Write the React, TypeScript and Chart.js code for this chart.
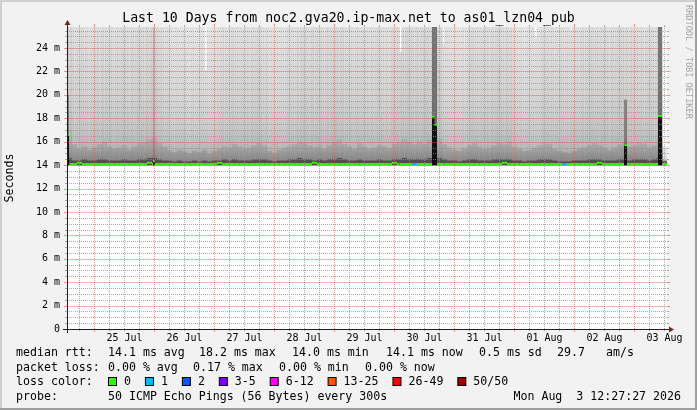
import React, { useEffect, useRef } from "react";
import { Chart, registerables } from "chart.js";

Chart.register(...registerables);

const FONT = '"DejaVu Sans Mono", monospace';

const TITLE = "Last 10 Days from noc2.gva20.ip-max.net to as01_lzn04_pub";
const Y_TITLE = "Seconds";
const WATERMARK = "RRDTOOL / TOBI OETIKER";

// time axis: hours since Jul 24 13:00, 10 days
const X_MIN = 0;
const X_MAX = 240;
const BIN_HOURS = 2;
const JITTER_BIN_HOURS = 1;
const dayLabels = ["25 Jul", "26 Jul", "27 Jul", "28 Jul", "29 Jul", "30 Jul", "31 Jul", "01 Aug", "02 Aug", "03 Aug"];
const dayNoonHours = [23, 47, 71, 95, 119, 143, 167, 191, 215, 239];
const midnightHours = [11, 35, 59, 83, 107, 131, 155, 179, 203, 227];
const MINOR_X_STEP = 6;

const Y_MIN = 0;
const Y_MAX = 25.8;
const yTickValues = [0, 2, 4, 6, 8, 10, 12, 14, 16, 18, 20, 22, 24];
const yTickLabels = ["0", "2 m", "4 m", "6 m", "8 m", "10 m", "12 m", "14 m", "16 m", "18 m", "20 m", "22 m", "24 m"];
const MINOR_Y_STEP = 0.5;
const SMOKE_FLOOR = 13.98;

// per 2h bin (120 bins), values in milliseconds
const medianRtt = [
  14.1, 14.1, 14.2, 14.1, 14.1, 14.1, 14.1, 14.1, 14.1, 14.1,
  14.1, 14.1, 14.1, 14.1, 14.1, 14.1, 14.2, 14.1, 14.1, 14.1,
  14.1, 14.1, 14.1, 14.1, 14.1, 14.1, 14.1, 14.1, 14.1, 14.1,
  14.2, 14.1, 14.1, 14.1, 14.1, 14.1, 14.1, 14.1, 14.1, 14.1,
  14.1, 14.1, 14.1, 14.1, 14.1, 14.1, 14.1, 14.1, 14.1, 14.2,
  14.1, 14.1, 14.1, 14.1, 14.1, 14.1, 14.1, 14.1, 14.1, 14.1,
  14.1, 14.1, 14.1, 14.1, 14.1, 14.2, 14.1, 14.1, 14.1, 14.1,
  14.1, 14.1, 14.1, 14.1, 14.1, 14.1, 14.1, 14.1, 14.1, 14.1,
  14.1, 14.1, 14.1, 14.1, 14.1, 14.1, 14.1, 14.2, 14.1, 14.1,
  14.1, 14.1, 14.1, 14.1, 14.1, 14.1, 14.1, 14.1, 14.1, 14.1,
  14.1, 14.1, 14.1, 14.1, 14.1, 14.1, 14.2, 14.1, 14.1, 14.1,
  14.1, 14.1, 14.1, 14.1, 14.1, 14.1, 14.1, 14.1, 14.1, 14.1,
];
const lossCount = [
  0, 0, 0, 0, 0, 0, 0, 0, 0, 0,
  0, 0, 0, 0, 0, 0, 0, 0, 0, 0,
  0, 0, 0, 0, 0, 0, 0, 0, 0, 0,
  0, 0, 0, 0, 0, 0, 0, 0, 0, 0,
  0, 0, 0, 0, 0, 0, 0, 0, 0, 0,
  0, 0, 0, 0, 0, 0, 0, 0, 0, 0,
  0, 0, 0, 0, 0, 0, 0, 0, 0, 1,
  0, 0, 0, 0, 0, 0, 0, 0, 0, 0,
  0, 0, 0, 0, 0, 0, 0, 0, 0, 0,
  0, 0, 0, 0, 0, 0, 0, 0, 0, 1,
  0, 0, 0, 0, 0, 0, 0, 0, 0, 0,
  0, 0, 0, 0, 0, 0, 0, 0, 0, 0,
];
const smokeMax = [
  26, 26, 26, 26, 26, 26, 26, 26, 26, 26,
  26, 26, 26, 26, 26, 26, 26, 26, 26, 26,
  26, 26, 26, 26, 26, 26, 26, 26, 26, 26,
  26, 26, 26, 26, 26, 26, 26, 26, 26, 26,
  26, 26, 26, 26, 26, 26, 26, 26, 26, 26,
  26, 26, 26, 26, 26, 26, 26, 26, 26, 26,
  26, 26, 26, 26, 26, 26, 26, 26, 26, 26,
  26, 26, 26, 26, 26, 26, 26, 26, 26, 26,
  26, 26, 26, 26, 26, 26, 26, 26, 26, 26,
  26, 26, 26, 26, 26, 26, 26, 26, 26, 26,
  26, 26, 26, 26, 26, 26, 26, 26, 26, 26,
  26, 26, 26, 26, 26, 26, 26, 26, 26, 26,
];
// share (%) of the 50 pings well above the median, per 1h
const jitterShare = [
  80, 60, 42, 38, 36, 40, 48, 40, 34, 38, 44, 40, 50, 42, 52, 48, 40, 46, 38, 42,
  46, 42, 50, 44, 40, 44, 48, 42, 54, 50, 48, 52, 58, 54, 66, 58, 50, 44, 38, 34,
  28, 24, 20, 24, 26, 22, 18, 22, 16, 20, 24, 20, 18, 22, 26, 22, 16, 20, 24, 20,
  32, 36, 42, 38, 34, 38, 46, 42, 38, 42, 34, 38, 42, 38, 46, 42, 50, 46, 36, 40,
  30, 26, 22, 26, 30, 26, 34, 30, 38, 34, 42, 38, 50, 46, 44, 48, 42, 46, 52, 48,
  46, 50, 42, 46, 52, 48, 58, 54, 50, 54, 48, 44, 38, 42, 36, 40, 46, 42, 38, 42,
  36, 40, 42, 38, 46, 42, 38, 42, 34, 38, 50, 46, 54, 50, 58, 54, 52, 56, 48, 52,
  56, 52, 50, 54, 60, 56, 66, 62, 58, 54, 32, 28, 22, 26, 18, 22, 24, 20, 28, 24,
  38, 42, 48, 44, 40, 44, 36, 40, 46, 42, 50, 46, 52, 48, 44, 48, 50, 46, 34, 30,
  24, 28, 20, 24, 26, 22, 30, 26, 28, 32, 38, 34, 46, 42, 38, 42, 34, 38, 40, 36,
  32, 36, 40, 36, 38, 42, 46, 42, 44, 48, 52, 48, 46, 50, 44, 48, 42, 46, 50, 46,
  48, 52, 56, 52, 44, 48, 38, 42, 46, 42, 40, 44, 36, 40, 44, 40, 58, 54, 32, 28,
];
const smokeCore = [
  17.0, 15.8, 15.4, 15.6, 15.3, 15.5, 15.8, 16.0, 15.6, 15.4,
  15.5, 15.7, 15.3, 15.6, 15.9, 16.0, 16.2, 16.4, 15.9, 15.6,
  15.3, 15.1, 15.3, 15.2, 15.0, 15.2, 15.1, 15.3, 15.0, 15.2,
  15.4, 15.6, 15.5, 15.8, 15.6, 15.4, 15.5, 15.7, 15.9, 15.7,
  15.2, 15.0, 15.3, 15.5, 15.6, 15.8, 16.0, 15.9, 15.7, 15.5,
  15.6, 15.4, 15.7, 16.0, 16.2, 15.8, 15.6, 15.4, 15.9, 15.6,
  15.4, 15.5, 15.7, 15.6, 15.4, 15.8, 16.0, 16.2, 16.0, 15.8,
  16.0, 15.8, 16.2, 16.5, 16.3, 15.8, 15.5, 15.3, 15.2, 15.4,
  15.7, 15.9, 15.6, 15.4, 15.5, 15.7, 15.9, 15.8, 16.0, 15.6,
  15.4, 15.2, 15.3, 15.5, 15.7, 15.9, 15.8, 15.4, 15.2, 15.1,
  15.0, 15.2, 15.4, 15.5, 15.7, 15.9, 15.7, 15.5, 15.3, 15.5,
  15.7, 16.0, 15.6, 15.7, 15.9, 15.8, 15.5, 15.7, 16.2, 15.6,
];
const smokeDense = [
  14.6, 14.4, 14.4, 14.5, 14.4, 14.4, 14.5, 14.5, 14.4, 14.4,
  14.4, 14.5, 14.4, 14.4, 14.5, 14.5, 14.6, 14.6, 14.5, 14.4,
  14.4, 14.3, 14.4, 14.3, 14.3, 14.4, 14.3, 14.4, 14.3, 14.4,
  14.4, 14.5, 14.4, 14.5, 14.4, 14.4, 14.4, 14.5, 14.5, 14.5,
  14.4, 14.3, 14.4, 14.4, 14.5, 14.5, 14.6, 14.5, 14.5, 14.4,
  14.5, 14.4, 14.5, 14.5, 14.6, 14.5, 14.4, 14.4, 14.5, 14.4,
  14.4, 14.4, 14.5, 14.4, 14.4, 14.5, 14.5, 14.6, 14.5, 14.5,
  14.5, 14.5, 14.6, 14.6, 14.6, 14.5, 14.4, 14.4, 14.3, 14.4,
  14.5, 14.5, 14.4, 14.4, 14.4, 14.5, 14.5, 14.5, 14.5, 14.4,
  14.4, 14.3, 14.4, 14.4, 14.5, 14.5, 14.5, 14.4, 14.3, 14.3,
  14.3, 14.4, 14.4, 14.4, 14.5, 14.5, 14.5, 14.4, 14.4, 14.4,
  14.5, 14.5, 14.4, 14.5, 14.5, 14.5, 14.4, 14.5, 14.6, 14.4,
];

// narrow events (hours) overriding the bins; null = keep bin value
const spikeFrom = [0, 34.4, 55.2, 133.2, 146, 147, 150.4, 187.2, 201.6, 222.8, 236.4, 238.4];
const spikeTo = [0.8, 35.2, 55.8, 133.8, 147, 148, 150.8, 187.8, 202, 224, 238, 240];
const spikeMedian = [16.6, 14.35, null, null, 18.15, 17.45, null, null, null, 15.7, 18.2, null];
const spikeMax = [null, null, 22.1, 23.7, null, null, 24.4, 24.9, 25.4, null, null, 14.3];
const spikeShade = [20, 26, null, null, 26, 26, null, null, null, 19.6, 26, null];
const spikeShadeLevel = [0.35, 0.12, 0, 0, 0.45, 0.45, 0, 0, 0, 0.35, 0.45, 0];
const spikePeak = [16.6, 14.35, null, null, 18.1, 17.4, null, null, null, 15.7, 18.2, null];

const lossLabels = ["0", "1", "2", "3-5", "6-12", "13-25", "26-49", "50/50"];
const lossThresholds = [0, 1, 2, 3, 6, 13, 26, 50];
const lossColors = ["#26ff00", "#00b8ff", "#0059ff", "#7e00ff", "#ff00ff", "#ff5500", "#ff0000", "#a10000"];

const legendRow1: [string, number][] = [
  ["median rtt:", 16],
  ["14.1 ms avg", 108],
  ["18.2 ms max", 199],
  ["14.0 ms min", 292],
  ["14.1 ms now", 386],
  ["0.5 ms sd", 479],
  ["29.7", 557],
  ["am/s", 606],
];
const legendRow2: [string, number][] = [
  ["packet loss:", 16],
  ["0.00 % avg", 108],
  ["0.17 % max", 193],
  ["0.00 % min", 279],
  ["0.00 % now", 365],
];
const legendRow3Title = "loss color:";
const legendRow4: [string, number][] = [
  ["probe:", 16],
  ["50 ICMP Echo Pings (56 Bytes) every 300s", 108],
];
const STAMP = "Mon Aug  3 12:27:27 2026";

function lossColor(n: number) {
  let c = lossColors[0];
  for (let i = 0; i < lossThresholds.length; i++) if (n >= lossThresholds[i]) c = lossColors[i];
  return c;
}

function buildIntervals(): [number, number][] {
  const edges: number[] = [];
  for (let i = 0; i <= jitterShare.length; i++) edges.push(i * JITTER_BIN_HOURS);
  for (let i = 0; i <= medianRtt.length; i++) edges.push(i * BIN_HOURS);
  spikeFrom.forEach((v) => edges.push(v));
  spikeTo.forEach((v) => edges.push(v));
  const uniq = Array.from(new Set(edges.map((e) => Math.round(e * 1000) / 1000))).sort((a, b) => a - b);
  const out: [number, number][] = [];
  for (let k = 0; k < uniq.length - 1; k++) out.push([uniq[k], uniq[k + 1]]);
  return out;
}

function spikeAt(a: number, b: number) {
  const c = (a + b) / 2;
  for (let s = 0; s < spikeFrom.length; s++) if (c >= spikeFrom[s] && c < spikeTo[s]) return s;
  return -1;
}

function pick(base: number[] | null, spikes: (number | null)[], a: number, b: number): number {
  const s = spikeAt(a, b);
  if (s >= 0 && spikes[s] != null) return spikes[s] as number;
  if (!base) return SMOKE_FLOOR;
  return base[Math.min(base.length - 1, Math.floor((a + b) / 2 / BIN_HOURS))];
}

function stepSeries(intervals: [number, number][], base: number[] | null, spikes: (number | null)[]) {
  const pts = intervals.map(([a, b]) => ({ x: a, y: pick(base, spikes, a, b) }));
  pts.push({ x: X_MAX, y: pts[pts.length - 1].y });
  return pts;
}

function drawGrid(chart: any) {
  const { ctx, chartArea: a, scales } = chart;
  const xs = scales.x;
  const ys = scales.y;
  const L = Math.round(a.left);
  const R = Math.round(a.right) - 1;
  const T = Math.round(a.top);
  const B = Math.round(a.bottom);
  const minorCol = "rgba(143,143,143,0.75)";
  const majorCol = "rgba(222,79,79,0.6)";
  const hline = (p: number, col: string, major: boolean) => {
    const r = Math.round(p);
    ctx.fillStyle = col;
    if (major) {
      ctx.save();
      ctx.globalAlpha = 0.7;
      ctx.fillRect(L, r, R - L + 1, 1);
      ctx.restore();
    } else {
      for (let x = L; x <= R; x += 2) ctx.fillRect(x, r, 1, 1);
    }
    const t = major ? 3 : 2;
    ctx.fillRect(L - t, r, t, 1);
    ctx.fillRect(R + 1, r, t, 1);
  };
  const vline = (p: number, col: string, major: boolean) => {
    const c = Math.floor(p);
    ctx.fillStyle = col;
    for (let y = B - 1; y >= T; y -= 2) ctx.fillRect(c, y, 1, 1);
    const t = major ? 3 : 2;
    ctx.fillRect(c, B, 1, t);
    ctx.fillRect(c, T - t, 1, t);
  };
  ctx.save();
  const rows: number[] = [];
  for (let k = 1; k * MINOR_Y_STEP < Y_MAX; k++) rows.push(k * MINOR_Y_STEP);
  rows.forEach((v) => {
    if (yTickValues.indexOf(v) < 0) hline(ys.getPixelForValue(v), minorCol, false);
  });
  for (let h = midnightHours[0] - MINOR_X_STEP; h < X_MAX; h += MINOR_X_STEP) {
    if (h <= X_MIN || midnightHours.indexOf(h) >= 0) continue;
    vline(xs.getPixelForValue(h), minorCol, false);
  }
  for (let k = 1; k < yTickValues.length; k++) hline(ys.getPixelForValue(yTickValues[k]), majorCol, true);
  for (let k = 0; k < midnightHours.length; k++) vline(xs.getPixelForValue(midnightHours[k]), majorCol, true);
  ctx.restore();
}

const rrdPlugin = {
  id: "rrdLook",
  beforeDraw(chart: any) {
    const { ctx, width, height, chartArea: a } = chart;
    ctx.save();
    ctx.fillStyle = "#f2f2f2";
    ctx.fillRect(0, 0, width, height);
    ctx.fillStyle = "#cfcfcf";
    ctx.fillRect(0, 0, width, 2);
    ctx.fillRect(0, 0, 2, height);
    ctx.fillStyle = "#9e9e9e";
    ctx.fillRect(0, height - 2, width, 2);
    ctx.fillRect(width - 2, 0, 2, height);
    ctx.fillStyle = "#ffffff";
    ctx.fillRect(a.left, a.top, a.right - a.left, a.bottom - a.top);
    ctx.restore();
  },
  afterDraw(chart: any) {
    drawGrid(chart);
    const { ctx, chartArea: a, scales } = chart;
    const x0 = Math.round(a.left) + 0.5;
    const y0 = Math.round(scales.y.getPixelForValue(0)) + 0.5;
    ctx.save();
    ctx.strokeStyle = "#1f1f1f";
    ctx.lineWidth = 1;
    ctx.setLineDash([]);
    ctx.beginPath();
    ctx.moveTo(a.left - 4, y0);
    ctx.lineTo(a.right + 4, y0);
    ctx.moveTo(x0, a.bottom + 4);
    ctx.lineTo(x0, a.top - 4);
    ctx.stroke();
    ctx.fillStyle = "#801f1f";
    ctx.beginPath();
    ctx.moveTo(a.right + 2, y0 - 3);
    ctx.lineTo(a.right + 2, y0 + 3);
    ctx.lineTo(a.right + 7, y0);
    ctx.closePath();
    ctx.fill();
    ctx.beginPath();
    ctx.moveTo(x0 - 3, a.top - 2);
    ctx.lineTo(x0 + 3, a.top - 2);
    ctx.lineTo(x0, a.top - 7);
    ctx.closePath();
    ctx.fill();

    ctx.fillStyle = "#000";
    ctx.textBaseline = "middle";
    ctx.textAlign = "center";
    ctx.font = `13.2px ${FONT}`;
    ctx.fillText(TITLE, chart.width / 2, 19);

    ctx.save();
    ctx.translate(10, (a.top + a.bottom) / 2);
    ctx.rotate(-Math.PI / 2);
    ctx.font = `11.6px ${FONT}`;
    ctx.fillText(Y_TITLE, 0, 0);
    ctx.restore();

    ctx.save();
    ctx.translate(688, 5);
    ctx.rotate(Math.PI / 2);
    ctx.textAlign = "left";
    ctx.font = `8.6px ${FONT}`;
    ctx.fillStyle = "#a6a6a6";
    ctx.fillText(WATERMARK, 0, 0);
    ctx.restore();

    ctx.font = `11.6px ${FONT}`;
    ctx.textAlign = "left";
    ctx.fillStyle = "#000";
    const rowY = [353, 367.5, 382, 397];
    legendRow1.forEach(([t, x]) => ctx.fillText(t, x, rowY[0]));
    legendRow2.forEach(([t, x]) => ctx.fillText(t, x, rowY[1]));
    ctx.fillText(legendRow3Title, 16, rowY[2]);
    const cw = ctx.measureText("0").width;
    let bx = 108;
    lossLabels.forEach((lab, i) => {
      ctx.fillStyle = lossColors[i];
      ctx.fillRect(bx + 0.5, rowY[2] - 4.5, 8, 8);
      ctx.strokeStyle = "#000";
      ctx.strokeRect(bx + 0.5, rowY[2] - 4.5, 8, 8);
      ctx.fillStyle = "#000";
      ctx.fillText(lab, bx + 16, rowY[2]);
      bx = bx + 16 + lab.length * cw + 2 * cw;
    });
    legendRow4.forEach(([t, x]) => ctx.fillText(t, x, rowY[3]));
    ctx.textAlign = "right";
    ctx.fillText(STAMP, 681, rowY[3]);
    ctx.restore();
  },
};

export default function App() {
  const ref = useRef<HTMLCanvasElement | null>(null);
  useEffect(() => {
    document.body.style.margin = "0";
    const canvas = ref.current;
    if (!canvas) return;
    const intervals = buildIntervals();
    const binOf = (a: number, b: number) => Math.min(medianRtt.length - 1, Math.floor((a + b) / 2 / BIN_HOURS));
    const jbinOf = (a: number, b: number) => Math.min(jitterShare.length - 1, Math.floor((a + b) / 2 / JITTER_BIN_HOURS));
    const mk = (label: string, pts: any[], bg: any, order: number, segBg?: (i: number) => string) => ({
      label,
      data: pts,
      stepped: "before" as const,
      borderWidth: 0,
      borderColor: "rgba(0,0,0,0)",
      pointRadius: 0,
      fill: { value: SMOKE_FLOOR },
      backgroundColor: bg,
      order,
      segment: segBg ? { backgroundColor: (c: any) => segBg(c.p0DataIndex) } : undefined,
    });
    const vGradient = (stops: [number, string][], fallback: string) => (c: any) => {
      const chart = c.chart;
      const ys = chart.scales && chart.scales.y;
      if (!chart.chartArea || !ys) return fallback;
      const g = chart.ctx.createLinearGradient(0, ys.getPixelForValue(14), 0, ys.getPixelForValue(Y_MAX));
      stops.forEach(([f, col]) => g.addColorStop(f, col));
      return g;
    };
    const maxGradient = vGradient(
      [
        [0, "#929292"],
        [0.045, "#a8a8a8"],
        [0.13, "#bfbfbf"],
        [0.26, "#d0d0d0"],
        [0.5, "#dddddd"],
        [1, "#eaeaea"],
      ],
      "#d0d0d0"
    );
    const coreGradient = vGradient(
      [
        [0, "rgba(0,0,0,0.16)"],
        [0.1, "rgba(0,0,0,0.10)"],
        [0.22, "rgba(0,0,0,0.04)"],
        [1, "rgba(0,0,0,0.02)"],
      ],
      "rgba(0,0,0,0.09)"
    );
    const shadeAlpha = (i: number) => {
      if (i >= intervals.length) return "rgba(0,0,0,0)";
      const [a, b] = intervals[i];
      const s = spikeAt(a, b);
      return `rgba(0,0,0,${s >= 0 ? spikeShadeLevel[s] : 0})`;
    };
    const jitterAlpha = (i: number) => {
      if (i >= intervals.length) return "rgba(0,0,0,0)";
      const [a, b] = intervals[i];
      return `rgba(0,0,0,${(jitterShare[jbinOf(a, b)] / 700).toFixed(3)})`;
    };
    const medPts: any[] = [];
    const medLoss: number[] = [];
    intervals.forEach(([a, b]) => {
      const m = pick(medianRtt, spikeMedian, a, b);
      const l = lossCount[binOf(a, b)];
      medPts.push({ x: a, y: m }, { x: b, y: m }, { x: b, y: null });
      medLoss.push(l, l, l);
    });
    const chart = new Chart(canvas, {
      type: "line",
      data: {
        datasets: [
          mk("max", stepSeries(intervals, smokeMax, spikeMax), maxGradient, 10),
          mk("jitter", stepSeries(intervals, smokeMax, spikeMax), "rgba(0,0,0,0.05)", 9, jitterAlpha),
          mk("core", stepSeries(intervals, smokeCore, []), coreGradient, 8),
          mk("dense", stepSeries(intervals, smokeDense, []), "rgba(0,0,0,0.38)", 7),
          mk("shade", stepSeries(intervals, null, spikeShade), "rgba(0,0,0,0.35)", 6, shadeAlpha),
          mk("peak", stepSeries(intervals, null, spikePeak), "rgba(0,0,0,0.82)", 5),
          {
            label: "median",
            data: medPts,
            borderWidth: 2,
            borderColor: lossColors[0],
            borderCapStyle: "butt",
            pointRadius: 0,
            fill: false,
            spanGaps: false,
            order: 1,
            segment: {
              borderColor: (c: any) => lossColor(medLoss[c.p0DataIndex]),
            },
          } as any,
        ],
      },
      options: {
        animation: false,
        responsive: false,
        devicePixelRatio: 1,
        events: [],
        layout: { padding: { left: 0, top: 27, right: 30, bottom: 0 } },
        plugins: { legend: { display: false }, tooltip: { enabled: false }, title: { display: false } },
        scales: {
          x: {
            type: "linear",
            min: X_MIN,
            max: X_MAX,
            grid: { display: false, drawTicks: false },
            border: { display: false },
            afterBuildTicks: (s: any) => {
              s.ticks = dayNoonHours.map((v) => ({ value: v }));
            },
            afterFit: (s: any) => {
              s.height = 81;
            },
            ticks: {
              autoSkip: false,
              maxRotation: 0,
              minRotation: 0,
              padding: 3,
              color: "#000",
              font: { family: FONT, size: 10 },
              callback: (_v: any, i: number) => dayLabels[i],
            },
          },
          y: {
            type: "linear",
            min: Y_MIN,
            max: Y_MAX,
            grid: { display: false, drawTicks: false },
            border: { display: false },
            afterBuildTicks: (s: any) => {
              s.ticks = yTickValues.map((v) => ({ value: v }));
            },
            afterFit: (s: any) => {
              s.width = 67;
            },
            ticks: {
              padding: 7,
              color: "#000",
              font: { family: FONT, size: 10 },
              callback: (_v: any, i: number) => yTickLabels[i],
            },
          },
        },
      } as any,
      plugins: [rrdPlugin],
    });
    return () => chart.destroy();
  }, []);
  return (
    <div style={{ position: "absolute", left: 0, top: 0, width: 697, height: 410 }}>
      <canvas ref={ref} width={697} height={410} style={{ display: "block", width: 697, height: 410 }} />
    </div>
  );
}
